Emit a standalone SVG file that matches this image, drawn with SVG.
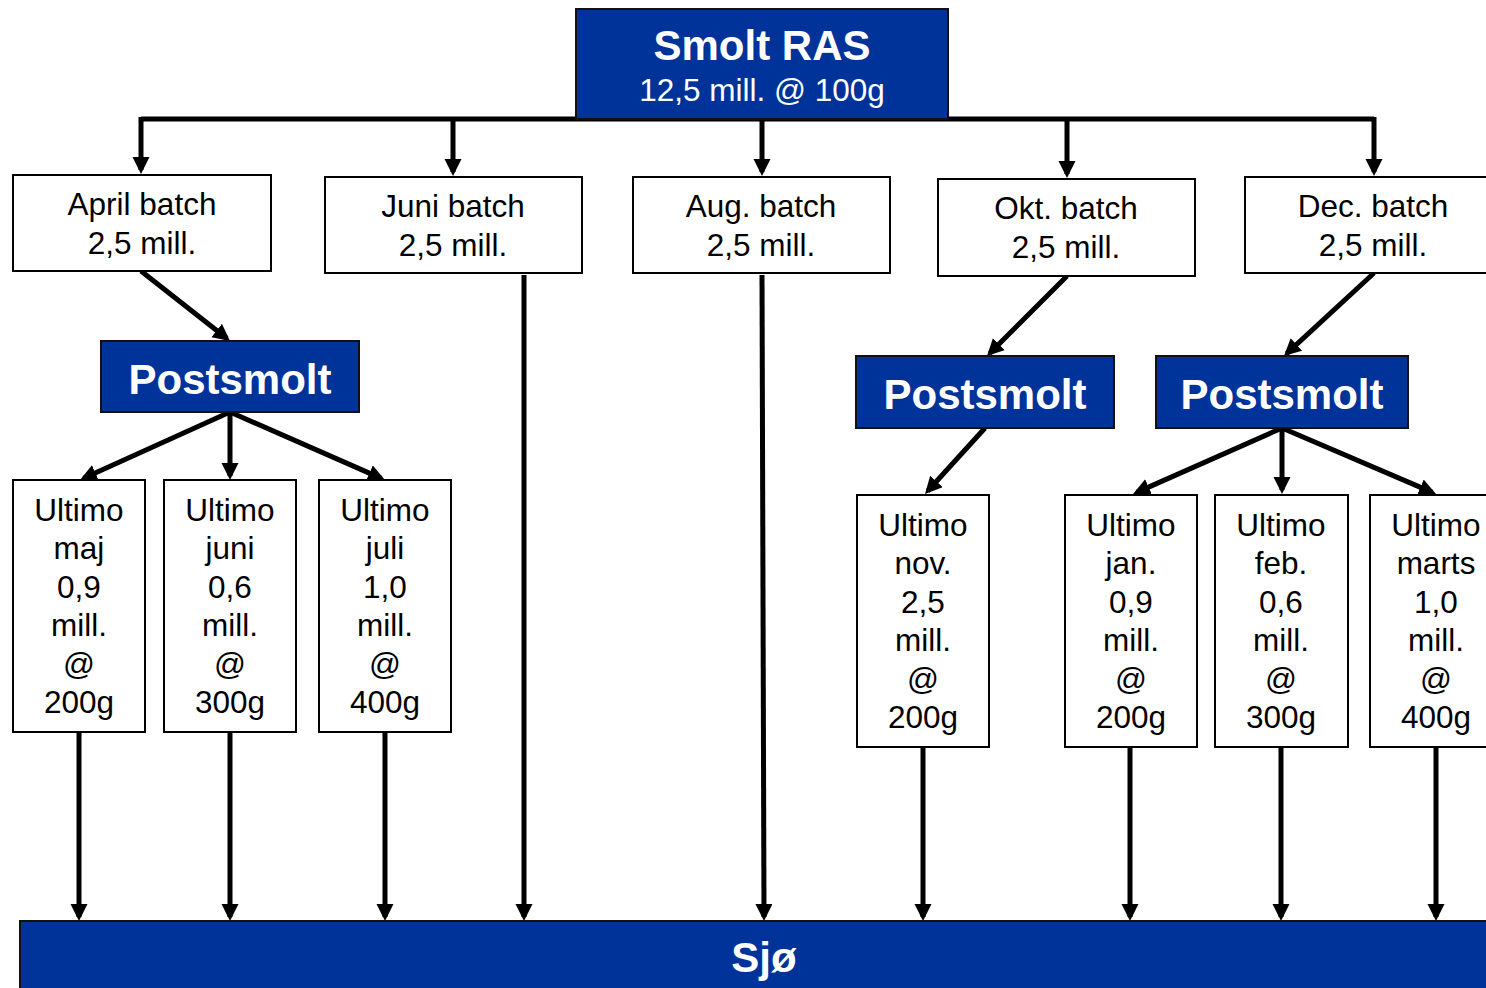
<svg xmlns="http://www.w3.org/2000/svg" width="1486" height="988" viewBox="0 0 1486 988">
<style>
.box{fill:#fff;stroke:#000;stroke-width:2}
.blue{fill:#003399;stroke:#111;stroke-width:2}
.t{font-family:"Liberation Sans",Arial,sans-serif;font-size:31.5px;fill:#000;text-anchor:middle}
.tw{font-family:"Liberation Sans",Arial,sans-serif;font-size:31.5px;fill:#fff;text-anchor:middle}
.tb{font-family:"Liberation Sans",Arial,sans-serif;font-size:42px;font-weight:bold;fill:#fff;text-anchor:middle}
.c{fill:none;stroke:#000;stroke-width:5;stroke-linejoin:miter}
.a{marker-end:url(#ah)}
</style>
<defs>
<marker id="ah" markerUnits="userSpaceOnUse" markerWidth="18" markerHeight="18" refX="13" refY="8.5" orient="auto">
<path d="M0,0 L17,8.5 L0,17 z" fill="#000"/>
</marker>
</defs>
<rect width="1486" height="988" fill="#fff"/>
<g id="connectors">
<path class="c" d="M141,119 H1374"/>
<path class="c a" d="M141,117 V170"/>
<path class="c a" d="M453,119 V172"/>
<path class="c a" d="M762,119 V172"/>
<path class="c a" d="M1067,119 V174"/>
<path class="c a" d="M1374,117 V172"/>
<path class="c a" d="M141,271 L226.9,338.5"/>
<path class="c a" d="M1067,276 L989.8,353.2"/>
<path class="c a" d="M1374,273 L1286.9,353.3"/>
<path class="c a" d="M230,412 L83.6,478.3"/>
<path class="c a" d="M230,412 V476"/>
<path class="c a" d="M230,412 L381.3,478.4"/>
<path class="c a" d="M985,428 L927.7,491"/>
<path class="c a" d="M1282,428 L1136.7,492.4"/>
<path class="c a" d="M1282,428 V490"/>
<path class="c a" d="M1282,428 L1432.3,492.4"/>
<path class="c a" d="M79,732 V917"/>
<path class="c a" d="M230,732 V917"/>
<path class="c a" d="M385,732 V917"/>
<path class="c a" d="M524,275 V917"/>
<path class="c a" d="M762,275 L764,917"/>
<path class="c a" d="M923,747 V917"/>
<path class="c a" d="M1130,747 V917"/>
<path class="c a" d="M1281,747 V917"/>
<path class="c a" d="M1436,747 V917"/>
</g>
<g id="smolt-ras">
<rect class="blue" x="576" y="9" width="372" height="110"/>
<text class="tb" x="762" y="60">Smolt RAS</text>
<text class="tw" x="762" y="101">12,5 mill. @ 100g</text>
</g>
<g id="april-batch">
<rect class="box" x="13" y="175" width="258" height="96"/>
<text class="t" x="142" y="215">April batch</text>
<text class="t" x="142" y="254">2,5 mill.</text>
</g>
<g id="juni-batch">
<rect class="box" x="325" y="177" width="257" height="96"/>
<text class="t" x="453" y="217">Juni batch</text>
<text class="t" x="453" y="256">2,5 mill.</text>
</g>
<g id="aug-batch">
<rect class="box" x="633" y="177" width="257" height="96"/>
<text class="t" x="761" y="217">Aug. batch</text>
<text class="t" x="761" y="256">2,5 mill.</text>
</g>
<g id="okt-batch">
<rect class="box" x="938" y="179" width="257" height="97"/>
<text class="t" x="1066" y="219">Okt. batch</text>
<text class="t" x="1066" y="258">2,5 mill.</text>
</g>
<g id="dec-batch">
<rect class="box" x="1245" y="177" width="260" height="96"/>
<text class="t" x="1373" y="217">Dec. batch</text>
<text class="t" x="1373" y="256">2,5 mill.</text>
</g>
<g id="postsmolt-1">
<rect class="blue" x="101" y="341" width="258" height="71"/>
<text class="tb" x="230" y="394">Postsmolt</text>
</g>
<g id="postsmolt-2">
<rect class="blue" x="856" y="356" width="258" height="72"/>
<text class="tb" x="985" y="409">Postsmolt</text>
</g>
<g id="postsmolt-3">
<rect class="blue" x="1156" y="356" width="252" height="72"/>
<text class="tb" x="1282" y="409">Postsmolt</text>
</g>
<g id="ultimo-maj">
<rect class="box" x="13" y="480" width="132" height="252"/>
<text class="t" x="79" y="521">Ultimo</text>
<text class="t" x="79" y="559">maj</text>
<text class="t" x="79" y="598">0,9</text>
<text class="t" x="79" y="636">mill.</text>
<text class="t" x="79" y="675">@</text>
<text class="t" x="79" y="713">200g</text>
</g>
<g id="ultimo-juni">
<rect class="box" x="164" y="480" width="132" height="252"/>
<text class="t" x="230" y="521">Ultimo</text>
<text class="t" x="230" y="559">juni</text>
<text class="t" x="230" y="598">0,6</text>
<text class="t" x="230" y="636">mill.</text>
<text class="t" x="230" y="675">@</text>
<text class="t" x="230" y="713">300g</text>
</g>
<g id="ultimo-juli">
<rect class="box" x="319" y="480" width="132" height="252"/>
<text class="t" x="385" y="521">Ultimo</text>
<text class="t" x="385" y="559">juli</text>
<text class="t" x="385" y="598">1,0</text>
<text class="t" x="385" y="636">mill.</text>
<text class="t" x="385" y="675">@</text>
<text class="t" x="385" y="713">400g</text>
</g>
<g id="ultimo-nov">
<rect class="box" x="857" y="495" width="132" height="252"/>
<text class="t" x="923" y="536">Ultimo</text>
<text class="t" x="923" y="574">nov.</text>
<text class="t" x="923" y="613">2,5</text>
<text class="t" x="923" y="651">mill.</text>
<text class="t" x="923" y="690">@</text>
<text class="t" x="923" y="728">200g</text>
</g>
<g id="ultimo-jan">
<rect class="box" x="1065" y="495" width="132" height="252"/>
<text class="t" x="1131" y="536">Ultimo</text>
<text class="t" x="1131" y="574">jan.</text>
<text class="t" x="1131" y="613">0,9</text>
<text class="t" x="1131" y="651">mill.</text>
<text class="t" x="1131" y="690">@</text>
<text class="t" x="1131" y="728">200g</text>
</g>
<g id="ultimo-feb">
<rect class="box" x="1215" y="495" width="133" height="252"/>
<text class="t" x="1281" y="536">Ultimo</text>
<text class="t" x="1281" y="574">feb.</text>
<text class="t" x="1281" y="613">0,6</text>
<text class="t" x="1281" y="651">mill.</text>
<text class="t" x="1281" y="690">@</text>
<text class="t" x="1281" y="728">300g</text>
</g>
<g id="ultimo-marts">
<rect class="box" x="1370" y="495" width="132" height="252"/>
<text class="t" x="1436" y="536">Ultimo</text>
<text class="t" x="1436" y="574">marts</text>
<text class="t" x="1436" y="613">1,0</text>
<text class="t" x="1436" y="651">mill.</text>
<text class="t" x="1436" y="690">@</text>
<text class="t" x="1436" y="728">400g</text>
</g>
<g id="sjo">
<rect class="blue" x="20" y="921" width="1490" height="80"/>
<text class="tb" x="764" y="972">Sjø</text>
</g>
</svg>
